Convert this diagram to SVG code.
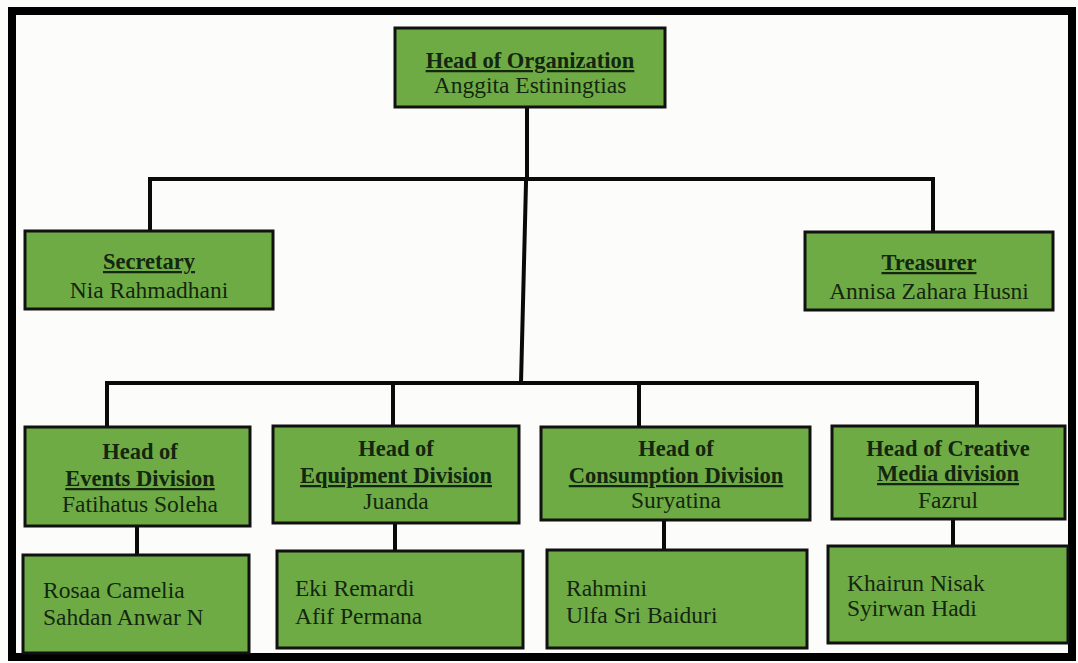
<svg xmlns="http://www.w3.org/2000/svg" width="1078" height="663" viewBox="0 0 1078 663">
<style>
.box{fill:#6fab45;stroke:#111;stroke-width:3}
.ln{stroke:#0a0a0a;stroke-width:4;fill:none;stroke-linecap:square}
text{font-family:"Liberation Serif","Times New Roman",serif;font-size:23.5px;fill:#13260f}
.t{font-weight:bold;font-size:22.5px;text-anchor:middle}
.u{text-decoration:underline}
.c{text-anchor:middle}
</style>
<rect x="0" y="0" width="1078" height="663" fill="#fcfcfa"/>
<rect x="12" y="11" width="1060" height="646" fill="none" stroke="#000" stroke-width="8"/>
<g id="connectors">
<line class="ln" x1="527" y1="107" x2="527" y2="179"/>
<line class="ln" x1="150" y1="179" x2="933" y2="179"/>
<line class="ln" x1="150" y1="179" x2="150" y2="231"/>
<line class="ln" x1="933" y1="179" x2="933" y2="232"/>
<line class="ln" x1="526" y1="183" x2="521" y2="383"/>
<line class="ln" x1="107" y1="383" x2="977" y2="383"/>
<line class="ln" x1="107" y1="383" x2="107" y2="427"/>
<line class="ln" x1="393" y1="383" x2="393" y2="426"/>
<line class="ln" x1="639" y1="383" x2="639" y2="427"/>
<line class="ln" x1="977" y1="383" x2="977" y2="426"/>
<line class="ln" x1="137" y1="526" x2="137" y2="555"/>
<line class="ln" x1="395" y1="523" x2="395" y2="551"/>
<line class="ln" x1="664" y1="520" x2="664" y2="550"/>
<line class="ln" x1="953" y1="519" x2="953" y2="546"/>
</g>
<g id="head">
<rect class="box" x="395" y="28" width="270" height="79"/>
<text class="t u" x="530" y="68">Head of Organization</text>
<text class="c" x="530" y="93">Anggita Estiningtias</text>
</g>
<g id="secretary">
<rect class="box" x="25" y="231" width="248" height="78"/>
<text class="t u" x="149" y="269">Secretary</text>
<text class="c" x="149" y="298">Nia Rahmadhani</text>
</g>
<g id="treasurer">
<rect class="box" x="805" y="232" width="248" height="78"/>
<text class="t u" x="929" y="270">Treasurer</text>
<text class="c" x="929" y="299">Annisa Zahara Husni</text>
</g>
<g id="events">
<rect class="box" x="25" y="427" width="225" height="99"/>
<text class="t" x="140" y="459">Head of</text>
<text class="t u" x="140" y="486">Events Division</text>
<text class="c" x="140" y="512">Fatihatus Soleha</text>
</g>
<g id="equipment">
<rect class="box" x="273" y="426" width="246" height="97"/>
<text class="t" x="396" y="456">Head of</text>
<text class="t u" x="396" y="483">Equipment Division</text>
<text class="c" x="396" y="509">Juanda</text>
</g>
<g id="consumption">
<rect class="box" x="541" y="427" width="269" height="93"/>
<text class="t" x="676" y="456">Head of</text>
<text class="t u" x="676" y="483">Consumption Division</text>
<text class="c" x="676" y="508">Suryatina</text>
</g>
<g id="creative">
<rect class="box" x="832" y="426" width="233" height="93"/>
<text class="t" x="948" y="456">Head of Creative</text>
<text class="t u" x="948" y="481">Media division</text>
<text class="c" x="948" y="508">Fazrul</text>
</g>
<g id="events-members">
<rect class="box" x="23" y="555" width="226" height="98"/>
<text x="43" y="598">Rosaa Camelia</text>
<text x="43" y="625">Sahdan Anwar N</text>
</g>
<g id="equipment-members">
<rect class="box" x="277" y="551" width="246" height="97"/>
<text x="295" y="596">Eki Remardi</text>
<text x="295" y="624">Afif Permana</text>
</g>
<g id="consumption-members">
<rect class="box" x="547" y="550" width="260" height="98"/>
<text x="566" y="596">Rahmini</text>
<text x="566" y="623">Ulfa Sri Baiduri</text>
</g>
<g id="creative-members">
<rect class="box" x="828" y="546" width="240" height="97"/>
<text x="847" y="591">Khairun Nisak</text>
<text x="847" y="616">Syirwan Hadi</text>
</g>
</svg>
